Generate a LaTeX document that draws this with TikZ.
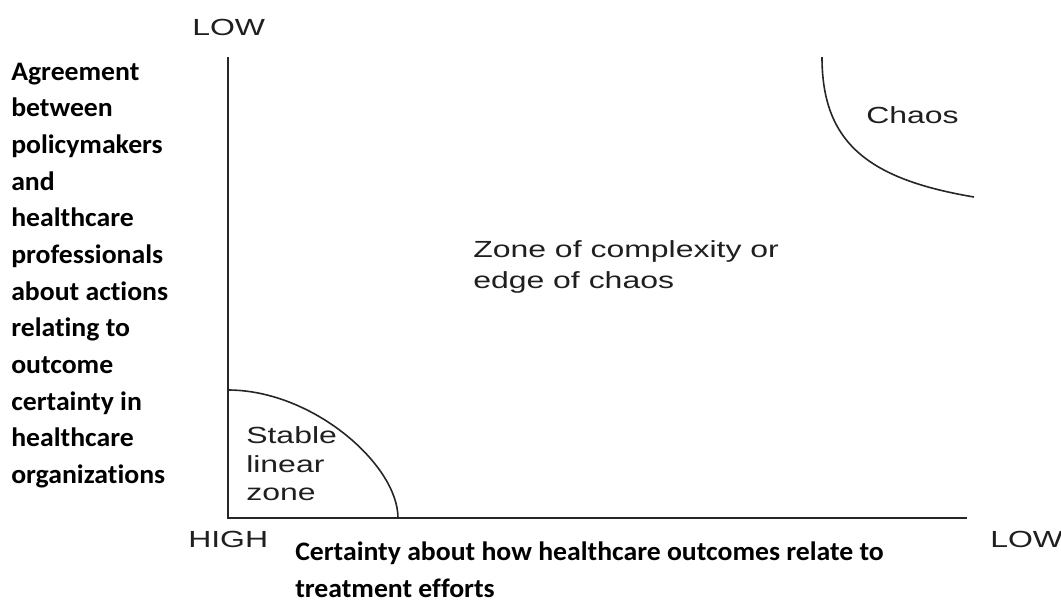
\documentclass[tikz,border=0pt]{standalone}
\usepackage{fontspec}
\newfontfamily\chartfont[FakeStretch=1.37]{Liberation Sans}
\newfontfamily\labelfont[FakeStretch=1.04,RawFeature={-liga;-dlig}]{Carlito}
\begin{document}
\begin{tikzpicture}[x=0.75pt,y=-0.75pt,
  chartlabel/.style={anchor=base west,inner sep=0pt,text=black!88,
    font=\chartfont\fontsize{17.5}{21.75}\selectfont},
  axislabel/.style={anchor=base west,inner sep=0pt,text=black,align=left,
    font=\labelfont\bfseries\fontsize{20}{27.5}\selectfont},
  axisline/.style={draw=black!85,line width=1.4pt},
  zoneline/.style={draw=black!85,line width=1.2pt}]
\useasboundingbox (0,0) rectangle (1061,601);

% axes
\coordinate (origin) at (228,518);
\coordinate (ytop) at (228,57);
\coordinate (xend) at (967,518);
\draw[axisline] (ytop) -- (origin) -- (xend);

% boundary of the stable linear zone
\coordinate (stableA) at (228,390);
\coordinate (stableB) at (398,518);
\draw[zoneline] (stableA) .. controls (313,390) and (398,465) .. (stableB);

% boundary of the chaos zone
\coordinate (chaosA) at (822,57);
\coordinate (chaosB) at (974,197);
\draw[zoneline] (chaosA) .. controls (822,142) and (867,179) .. (chaosB);

% axis end labels
\node[chartlabel] (ylow) at (192,35) {LOW};
\node[chartlabel] (xhigh) at (188,547) {HIGH};
\node[chartlabel] (xlow) at (990,547) {LOW};

% zone labels
\node[chartlabel] (chaos) at (866,123) {Chaos};
\node[chartlabel] (complex1) at (473,257) {Zone of complexity or};
\node[chartlabel] (complex2) at (473,288) {edge of chaos};
\node[chartlabel] (stable1) at (246,443) {Stable};
\node[chartlabel] (stable2) at (246,472) {linear};
\node[chartlabel] (stable3) at (246,500) {zone};

% axis titles (anchored on the baseline of their last line)
\node[axislabel] (ytitle) at (11,483.5) {Agreement\\between\\policymakers\\and\\healthcare\\professionals\\about actions\\relating to\\outcome\\certainty in\\healthcare\\organizations};
\node[axislabel] (xtitle) at (295,597.5) {Certainty about how healthcare outcomes relate to\\treatment efforts};
\end{tikzpicture}
\end{document}
